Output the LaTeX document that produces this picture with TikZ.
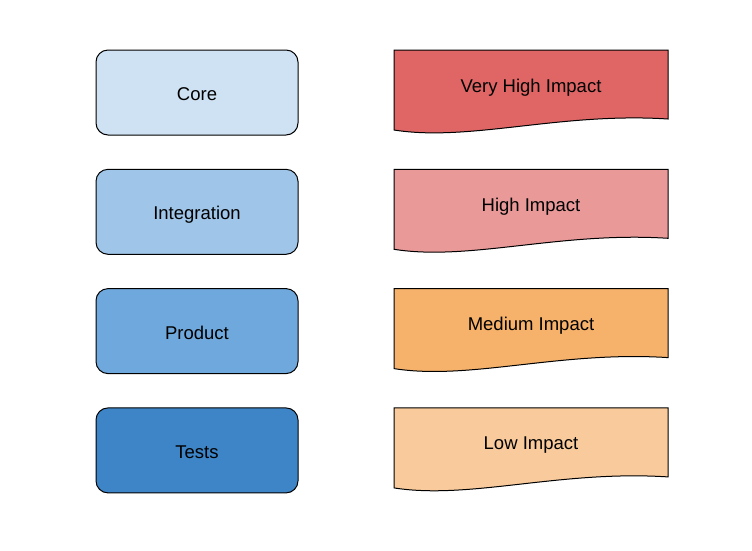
\documentclass[tikz,border=0pt]{standalone}
\usepackage{fontspec}
\setmainfont{Liberation Sans}

\definecolor{corefill}{HTML}{CFE2F3}
\definecolor{integrationfill}{HTML}{9FC5E8}
\definecolor{productfill}{HTML}{6FA8DC}
\definecolor{testsfill}{HTML}{3D85C6}
\definecolor{veryhighfill}{HTML}{E06666}
\definecolor{highfill}{HTML}{EA9999}
\definecolor{mediumfill}{HTML}{F6B26B}
\definecolor{lowfill}{HTML}{F9CB9C}

\begin{document}
\begin{tikzpicture}[x=1pt,y=-1pt,
	layer node/.style={draw,line width=1pt,rounded corners=12pt,minimum width=202pt,minimum height=85pt,text height=17pt,text depth=1pt,font=\fontsize{18.5}{22}\selectfont},
	impact shape/.style={draw,line width=1pt},
	impact node/.style={text height=17pt,text depth=1pt,font=\fontsize{18.5}{22}\selectfont}
]

	\def \dy {119.3};

	\useasboundingbox (0,0) rectangle (752,550);

	% code layers
	\foreach \name/\col [count=\i from 0] in {Core/corefill,Integration/integrationfill,Product/productfill,Tests/testsfill} {
		\node[layer node,fill=\col] (layer\i) at (197,{92.5+\dy*\i}) {\name};
	}

	% impact levels
	\foreach \name/\col [count=\i from 0] in {Very High Impact/veryhighfill,High Impact/highfill,Medium Impact/mediumfill,Low Impact/lowfill} {
		\pgfmathsetmacro{\t}{50+\dy*\i}
		\draw[impact shape,fill=\col] (394,\t) -- (668,\t) -- (668,{\t+69})
			.. controls (560,{\t+62}) and (470,{\t+92}) .. (394,{\t+80}) -- cycle;
		\node[impact node] (impact\i) at (531,{\t+34}) {\name};
	}
\end{tikzpicture}
\end{document}
